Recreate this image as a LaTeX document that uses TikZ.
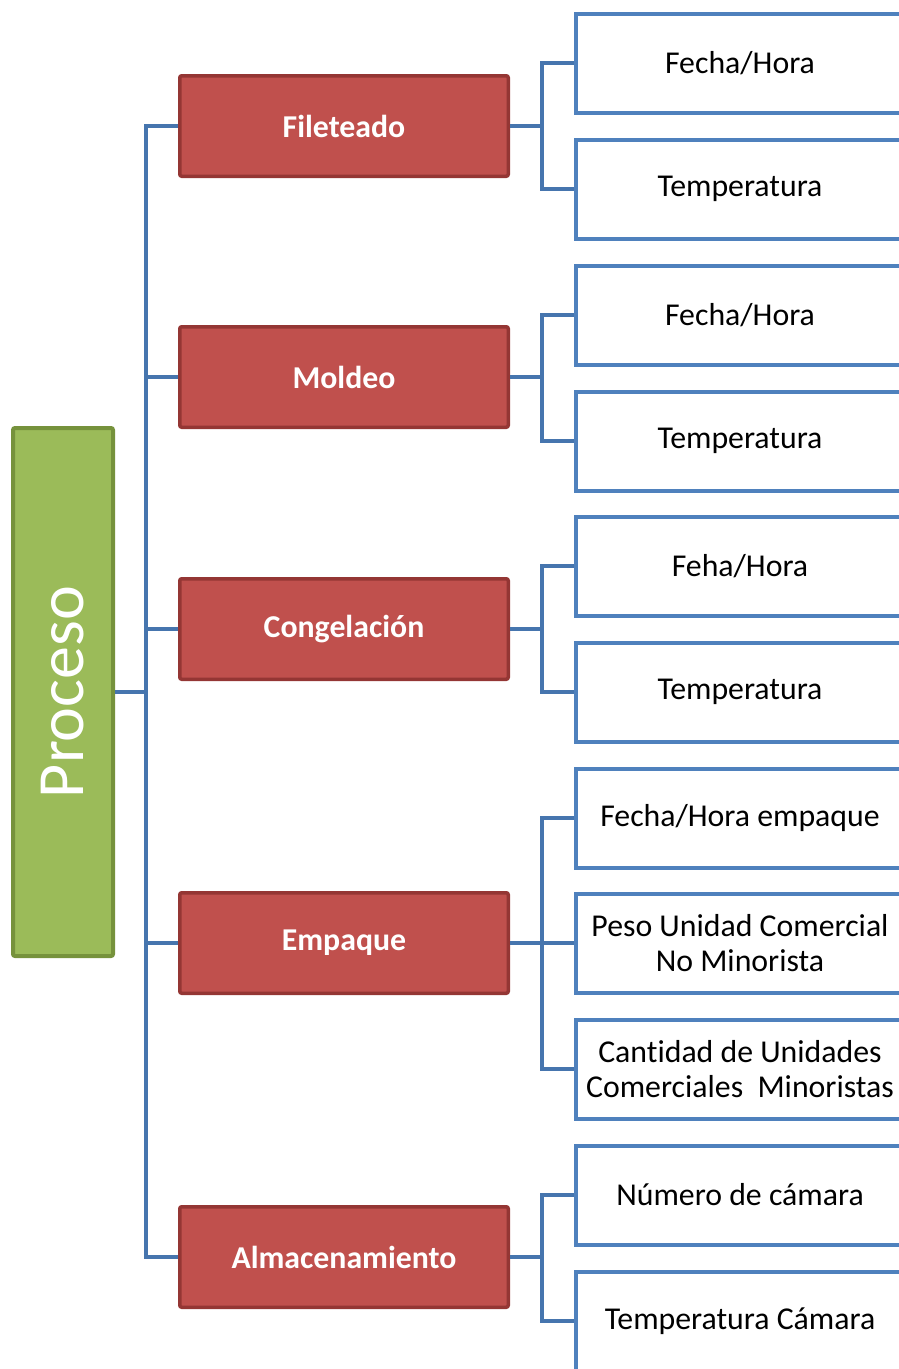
\documentclass[tikz,border=0pt]{standalone}
\usepackage{fontspec}
\setmainfont{Carlito}[Ligatures=NoCommon]
\usepackage{xcolor}
\usepackage{tikz}

\definecolor{verde}{HTML}{9BBB59}
\definecolor{verdeborde}{HTML}{76923C}
\definecolor{rojo}{HTML}{C0504D}
\definecolor{rojoborde}{HTML}{943634}
\definecolor{azul}{HTML}{4F81BD}
\definecolor{azullinea}{HTML}{4675AE}

\begin{document}
\begin{tikzpicture}[x=1pt,y=-1pt,
        raiz/.style={draw=verdeborde,fill=verde,line width=4pt,rounded corners=2pt,minimum width=100pt,minimum height=528pt,inner sep=0pt},
        paso/.style={draw=rojoborde,fill=rojo,line width=3.5pt,rounded corners=2pt,minimum width=328.5pt,minimum height=100.5pt,inner sep=0pt,text=white,font=\fontsize{31.8}{35}\selectfont\bfseries},
        dato/.style={draw=azul,fill=white,line width=4pt,minimum width=329pt,minimum height=99pt,inner sep=0pt,align=center,font=\fontsize{31.8}{35}\selectfont},
        rama/.style={draw=azullinea,line width=4.5pt}]
        \useasboundingbox (0,0) rectangle (899,1369);
        \clip (0,0) rectangle (899,1369);
        % raiz
        \node [raiz] (proceso) at (63,692) {};
        \node [rotate=90,text=white,font=\fontsize{66}{70}\selectfont] at (proceso.center) {Proceso};
        % pasos
        \node [paso] (filet) at (344,126) {Fileteado};
        \node [paso] (moldeo) at (344,377) {Moldeo};
        \node [paso] (congel) at (344,629) {Congelación};
        \node [paso] (empaque) at (344,943) {Empaque};
        \node [paso] (almac) at (344,1257) {Almacenamiento};
        % datos
        \node [dato] (filetA) at (740,63) {Fecha/Hora};
        \node [dato] (filetB) at (740,189) {Temperatura};
        \node [dato] (moldeoA) at (740,315) {Fecha/Hora};
        \node [dato] (moldeoB) at (740,441) {Temperatura};
        \node [dato] (congelA) at (740,566) {Feha/Hora};
        \node [dato] (congelB) at (740,692) {Temperatura};
        \node [dato] (empaqueA) at (740,818) {Fecha/Hora empaque};
        \node [dato] (empaqueB) at (740,943) {Peso Unidad Comercial\\No Minorista};
        \node [dato] (empaqueC) at (740,1069) {Cantidad de Unidades\\Comerciales\ \ Minoristas};
        \node [dato] (almacA) at (740,1195) {Número de cámara};
        \node [dato] (almacB) at (740,1321) {Temperatura Cámara};
        % ramas
        \coordinate (tronco) at (146,692);
        \draw [rama] (proceso.east) -- (tronco);
        \draw [rama] (tronco) |- (filet.west);
        \draw [rama] (tronco) |- (moldeo.west);
        \draw [rama] (tronco) |- (congel.west);
        \draw [rama] (tronco) |- (empaque.west);
        \draw [rama] (tronco) |- (almac.west);
        \draw [rama] (filet.east) -- ++(32,0) coordinate (rfilet) |- (filetA.west);
        \draw [rama] (rfilet) |- (filetB.west);
        \draw [rama] (moldeo.east) -- ++(32,0) coordinate (rmoldeo) |- (moldeoA.west);
        \draw [rama] (rmoldeo) |- (moldeoB.west);
        \draw [rama] (congel.east) -- ++(32,0) coordinate (rcongel) |- (congelA.west);
        \draw [rama] (rcongel) |- (congelB.west);
        \draw [rama] (empaque.east) -- ++(32,0) coordinate (rempaque) |- (empaqueA.west);
        \draw [rama] (rempaque) |- (empaqueB.west);
        \draw [rama] (rempaque) |- (empaqueC.west);
        \draw [rama] (almac.east) -- ++(32,0) coordinate (ralmac) |- (almacA.west);
        \draw [rama] (ralmac) |- (almacB.west);
\end{tikzpicture}
\end{document}
